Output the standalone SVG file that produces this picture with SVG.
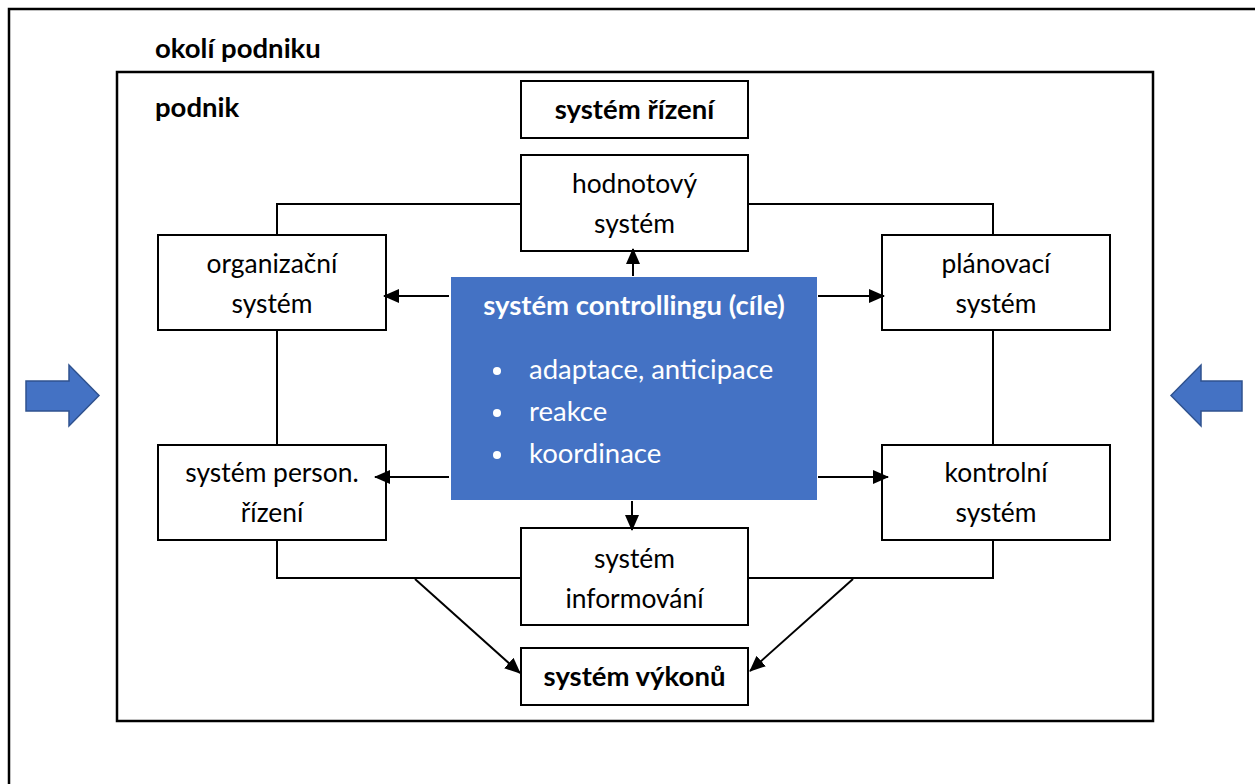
<svg xmlns="http://www.w3.org/2000/svg" width="1255" height="784" viewBox="0 0 1255 784">
  <style>
    .frame { fill: none; stroke: #000; stroke-width: 2.5; }
    .box { fill: #fff; stroke: #000; stroke-width: 2; }
    .lbl { font-family: Lato, "Liberation Sans", sans-serif; font-size: 26.4px; fill: #000; text-anchor: middle; }
    .b { font-weight: bold; font-size: 27.5px; }
    .head { font-family: Lato, "Liberation Sans", sans-serif; font-size: 27.5px; font-weight: bold; fill: #000; }
    .wire { fill: none; stroke: #000; stroke-width: 2; }
    .arr { fill: none; stroke: #000; stroke-width: 2; marker-end: url(#tip); }
    .white { fill: #fff; font-family: Lato, "Liberation Sans", sans-serif; font-size: 27.5px; }
    .flow { fill: #4472C4; stroke: #2F528F; stroke-width: 1.5; }
  </style>
  <defs>
    <marker id="tip" viewBox="0 0 16 14" refX="15" refY="7" markerWidth="16" markerHeight="14" markerUnits="userSpaceOnUse" orient="auto">
      <path d="M0,0 L16,7 L0,14 Z" fill="#000"/>
    </marker>
  </defs>

  <rect width="1255" height="784" fill="#fff"/>

  <!-- environment and enterprise frames -->
  <g id="environment">
    <rect class="frame" x="9" y="9" width="1260" height="800"/>
    <text class="head" x="155" y="58">okolí podniku</text>
  </g>
  <g id="enterprise">
    <rect class="frame" x="117" y="72" width="1036" height="649"/>
    <text class="head" x="155" y="117">podnik</text>
  </g>

  <!-- inflow arrows from the environment -->
  <g id="inflow-left">
    <path class="flow" d="M26,381 H69 V365 L99,395.5 L69,426 V411 H26 Z"/>
  </g>
  <g id="inflow-right">
    <path class="flow" d="M1242,381 H1201 V365 L1171,395.5 L1201,426 V411 H1242 Z"/>
  </g>

  <g id="rizeni">
    <rect class="box" x="521" y="81" width="227" height="57"/>
    <text class="lbl b" x="634.5" y="119">systém řízení</text>
  </g>
  <g id="hodnotovy">
    <rect class="box" x="521" y="155" width="227" height="96"/>
    <text class="lbl" x="634.5" y="193">hodnotový</text>
    <text class="lbl" x="634.5" y="233">systém</text>
  </g>
  <g id="organizacni">
    <rect class="box" x="158" y="235" width="228" height="95"/>
    <text class="lbl" x="272" y="273">organizační</text>
    <text class="lbl" x="272" y="313">systém</text>
  </g>
  <g id="planovaci">
    <rect class="box" x="882" y="235" width="228" height="95"/>
    <text class="lbl" x="996" y="273">plánovací</text>
    <text class="lbl" x="996" y="313">systém</text>
  </g>
  <g id="personalni">
    <rect class="box" x="158" y="445" width="228" height="95"/>
    <text class="lbl" x="272" y="482">systém person.</text>
    <text class="lbl" x="272" y="522">řízení</text>
  </g>
  <g id="kontrolni">
    <rect class="box" x="882" y="445" width="228" height="95"/>
    <text class="lbl" x="996" y="482">kontrolní</text>
    <text class="lbl" x="996" y="522">systém</text>
  </g>
  <g id="informovani">
    <rect class="box" x="521" y="528" width="227" height="97"/>
    <text class="lbl" x="634.5" y="568">systém</text>
    <text class="lbl" x="634.5" y="608">informování</text>
  </g>
  <g id="vykony">
    <rect class="box" x="521" y="648" width="227" height="57"/>
    <text class="lbl b" x="634.5" y="686">systém výkonů</text>
  </g>

  <g id="controlling">
    <rect x="451" y="277" width="366" height="223" fill="#4472C4"/>
    <text class="white" x="634" y="315" text-anchor="middle" font-weight="bold" font-size="26.6">systém controllingu (cíle)</text>
    <circle cx="497" cy="371" r="4" fill="#fff"/>
    <circle cx="497" cy="413" r="4" fill="#fff"/>
    <circle cx="497" cy="455" r="4" fill="#fff"/>
    <text class="white" x="529" y="379">adaptace, anticipace</text>
    <text class="white" x="529" y="421">reakce</text>
    <text class="white" x="529" y="463">koordinace</text>
  </g>

  <!-- connectors, drawn last so arrowheads sit on top of box outlines -->
  <g id="connectors">
    <path class="wire" d="M521,204 H277 V235 M277,330 V445 M277,540 V578 H521"/>
    <path class="wire" d="M748,204 H993 V235 M993,330 V445 M993,540 V578 H748"/>
    <line class="arr" x1="449" y1="296" x2="384" y2="296"/>
    <line class="arr" x1="818" y1="296" x2="884" y2="296"/>
    <line class="arr" x1="449" y1="477" x2="375" y2="477"/>
    <line class="arr" x1="818" y1="477" x2="888" y2="477"/>
    <line class="arr" x1="633" y1="276" x2="633" y2="249"/>
    <line class="arr" x1="632" y1="501" x2="632" y2="530"/>
    <line class="arr" x1="415" y1="579" x2="520" y2="673"/>
    <line class="arr" x1="853" y1="579" x2="750" y2="671"/>
  </g>
</svg>
